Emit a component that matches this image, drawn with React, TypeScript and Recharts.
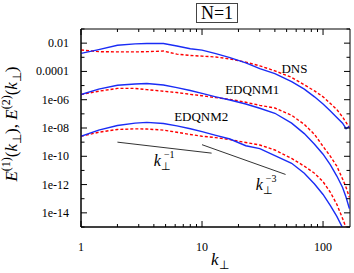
import React from "react";
import { LineChart, Line, XAxis, YAxis, ReferenceArea, ReferenceDot } from "recharts";

const FONT = "'Liberation Serif', 'Times New Roman', serif";
const PLOT_W = 269;
const PLOT_H = 198;

// wavenumbers k_perp
const kPerp = [1, 1.4, 2, 2.8, 3.5, 4.8, 6.2, 8, 10, 13, 17, 23, 30, 40, 55, 70, 85, 100, 115, 130, 145, 155, 165];

// DNS (blue solid = E1, red dashed = E2)
const dnsE1 = [1.9e-3, 3.5e-3, 7.1e-3, 8.9e-3, 9.5e-3, 9.5e-3, 6.3e-3, 4.0e-3, 3.2e-3, 1.8e-3, 9.5e-4, 4.0e-4, 1.6e-4, 7.1e-5, 1.9e-5, 5.6e-6, 1.6e-6, 5.0e-7, 1.6e-7, 5.6e-8, 2.2e-8, 9.0e-9, 1.3e-8];
const dnsE2 = [3.3e-3, 2.5e-3, 2.4e-3, 2.4e-3, 2.5e-3, 2.75e-3, 1.66e-3, 1.35e-3, 1.2e-3, 1.05e-3, 7.6e-4, 4.5e-4, 2.5e-4, 1.1e-4, 3.8e-5, 1.12e-5, 4.2e-6, 1.6e-6, 5.4e-7, 2.0e-7, 6.0e-8, 2.5e-8, 1.1e-8];

// EDQNM1
const edq1E1 = [2.3e-6, 5.6e-6, 1.05e-5, 1.3e-5, 1.4e-5, 1.1e-5, 7.1e-6, 4.5e-6, 2.8e-6, 1.6e-6, 9.5e-7, 5.0e-7, 2.5e-7, 1.1e-7, 2.2e-8, 4.0e-9, 7.1e-10, 1.4e-10, 2.5e-11, 4.0e-12, 6.3e-13, 1.26e-13, 2.0e-14];
const edq1E2 = [2.3e-6, 4.0e-6, 6.3e-6, 6.3e-6, 5.2e-6, 4.0e-6, 3.2e-6, 2.4e-6, 1.9e-6, 1.4e-6, 1.05e-6, 6.6e-7, 4.0e-7, 2.6e-7, 7.9e-8, 1.8e-8, 3.5e-9, 5.0e-10, 1.0e-10, 2.0e-11, 2.5e-12, 6.3e-13, 1.26e-13];

// EDQNM2
const edq2E1 = [2.6e-9, 7.1e-9, 1.5e-8, 2.2e-8, 2.5e-8, 2.1e-8, 1.4e-8, 8.9e-9, 5.6e-9, 3.0e-9, 1.66e-9, 5.6e-10, 3.5e-10, 1.1e-10, 3.2e-11, 6.3e-12, 1.1e-12, 2.0e-13, 3.2e-14, 5.6e-15, 8.9e-16, null, null];
const edq2E2 = [2.6e-9, 5.0e-9, 7.9e-9, 8.7e-9, 8.5e-9, 7.1e-9, 5.0e-9, 3.5e-9, 2.6e-9, 2.1e-9, 1.5e-9, 9.5e-10, 6.3e-10, 2.8e-10, 7.1e-11, 2.0e-11, 6.3e-12, 1.6e-12, 2.8e-13, 4.0e-14, 4.0e-15, 8.9e-16, null];

// guide slopes
const slopeMinus1 = [{ k: 2, v: 1.0e-9 }, { k: 12, v: 1.67e-10 }];
const slopeMinus3 = [{ k: 10, v: 6.6e-10 }, { k: 49, v: 5.2e-12 }];

const xTicks = [1, 2, 3, 4, 5, 6, 7, 8, 9, 10, 20, 30, 40, 50, 60, 70, 80, 90, 100];
const xLabels = [1, 10, 100];
const yTicks = [1e-15, 1e-14, 1e-13, 1e-12, 1e-11, 1e-10, 1e-9, 1e-8, 1e-7, 1e-6, 1e-5, 1e-4, 1e-3, 1e-2, 1e-1];
const yLabels: Record<number, string> = { [-2]: "0.01", [-4]: "0.0001", [-6]: "1e-06", [-8]: "1e-08", [-10]: "1e-10", [-12]: "1e-12", [-14]: "1e-14" };

const rows = kPerp.map((k, i) => ({
  k,
  dnsE1: dnsE1[i],
  dnsE2: dnsE2[i],
  edq1E1: edq1E1[i],
  edq1E2: edq1E2[i],
  edq2E1: edq2E1[i],
  edq2E2: edq2E2[i],
}));

const XTick = (props: any) => {
  const { x, y, payload } = props;
  const v = payload.value;
  const major = xLabels.includes(v);
  const len = major ? 6 : 3;
  return (
    <g>
      <line x1={x} x2={x} y1={y} y2={y - len} stroke="#000" />
      <line x1={x} x2={x} y1={y - PLOT_H} y2={y - PLOT_H + len} stroke="#000" />
      {major && (
        <text x={x} y={y + 24} textAnchor="middle" fontFamily={FONT} fontSize={12} fill="#000">
          {v}
        </text>
      )}
    </g>
  );
};

const YTick = (props: any) => {
  const { x, y, payload } = props;
  const e = Math.round(Math.log10(payload.value));
  const label = yLabels[e];
  const len = label ? 6 : 3.5;
  return (
    <g>
      <line x1={x} x2={x + len} y1={y} y2={y} stroke="#000" />
      <line x1={x + PLOT_W} x2={x + PLOT_W - len} y1={y} y2={y} stroke="#000" />
      {label && (
        <text x={x - 12} y={y + 4} textAnchor="end" fontFamily={FONT} fontSize={12} fill="#000">
          {label}
        </text>
      )}
    </g>
  );
};

const txt = (s: string) => (p: any) => (
  <text x={p.cx} y={p.cy} textAnchor="middle" fontFamily={FONT} fontSize={13} fill="#000">
    {s}
  </text>
);

const slopeText = (pow: string) => (p: any) => (
  <text x={p.cx} y={p.cy} fontFamily={FONT} fontSize={16} fill="#000">
    <tspan fontStyle="italic">k</tspan>
    <tspan fontSize={11} dy={4}>⊥</tspan>
    <tspan fontSize={10} dy={-12} dx={-7}>{pow}</tspan>
  </text>
);

const YTitle = () => (
  <text
    x={17}
    y={124}
    transform="rotate(-90 17 124)"
    textAnchor="middle"
    fontFamily={FONT}
    fontSize={17}
    fill="#000"
  >
    <tspan fontStyle="italic">E</tspan>
    <tspan fontSize={12} dy={-7}>(1)</tspan>
    <tspan dy={7}>(</tspan>
    <tspan fontStyle="italic">k</tspan>
    <tspan fontSize={12} dy={4}>⊥</tspan>
    <tspan dy={-4}>), </tspan>
    <tspan fontStyle="italic">E</tspan>
    <tspan fontSize={12} dy={-7}>(2)</tspan>
    <tspan dy={7}>(</tspan>
    <tspan fontStyle="italic">k</tspan>
    <tspan fontSize={12} dy={4}>⊥</tspan>
    <tspan dy={-4}>)</tspan>
  </text>
);

const XTitle = () => (
  <text x={211} y={265} fontFamily={FONT} fontSize={17} fill="#000">
    <tspan fontStyle="italic">k</tspan>
    <tspan fontSize={12} dy={4}>⊥</tspan>
  </text>
);

export default function App() {
  return (
    <div style={{ position: "absolute", left: 0, top: 0, width: 354, height: 273, background: "#fff" }}>
      <div
        style={{
          position: "absolute",
          left: 196,
          top: 3,
          width: 40,
          height: 18,
          border: "1px solid #444",
          fontFamily: FONT,
          fontSize: 18,
          lineHeight: "18px",
          textAlign: "center",
        }}
      >
        N=1
      </div>
      <LineChart width={354} height={273} data={rows} margin={{ top: 29, right: 4, left: 0, bottom: 0 }}>
        <XAxis
          dataKey="k"
          type="number"
          scale="log"
          domain={[1, 167]}
          allowDataOverflow
          ticks={xTicks}
          interval={0}
          tickSize={0}
          tickMargin={0}
          tickLine={false}
          tick={XTick}
          height={46}
          stroke="#000"
          label={{ content: XTitle }}
        />
        <YAxis
          type="number"
          scale="log"
          domain={[1e-15, 0.1]}
          allowDataOverflow
          ticks={yTicks}
          interval={0}
          tickSize={0}
          tickMargin={0}
          tickLine={false}
          tick={YTick}
          width={81}
          stroke="#000"
          label={{ content: YTitle }}
        />
        <Line dataKey="dnsE2" stroke="#ff0000" strokeWidth={1.4} strokeDasharray="3 2" dot={false} activeDot={false} isAnimationActive={false} />
        <Line dataKey="dnsE1" stroke="#1a2cf5" strokeWidth={1.4} dot={false} activeDot={false} isAnimationActive={false} />
        <Line dataKey="edq1E2" stroke="#ff0000" strokeWidth={1.4} strokeDasharray="3 2" dot={false} activeDot={false} isAnimationActive={false} />
        <Line dataKey="edq1E1" stroke="#1a2cf5" strokeWidth={1.4} dot={false} activeDot={false} isAnimationActive={false} />
        <Line dataKey="edq2E2" stroke="#ff0000" strokeWidth={1.4} strokeDasharray="3 2" dot={false} activeDot={false} isAnimationActive={false} />
        <Line dataKey="edq2E1" stroke="#1a2cf5" strokeWidth={1.4} dot={false} activeDot={false} isAnimationActive={false} />
        <Line data={slopeMinus1} dataKey="v" stroke="#333" strokeWidth={1} dot={false} activeDot={false} isAnimationActive={false} />
        <Line data={slopeMinus3} dataKey="v" stroke="#333" strokeWidth={1} dot={false} activeDot={false} isAnimationActive={false} />
        <ReferenceArea x1={1} x2={167} y1={1e-15} y2={0.1} fill="none" stroke="#000" strokeWidth={1} />
        <ReferenceDot x={58} y={8.1e-5} r={0} shape={txt("DNS")} />
        <ReferenceDot x={26} y={2.4e-6} r={0} shape={txt("EDQNM1")} />
        <ReferenceDot x={9.85} y={3e-8} r={0} shape={txt("EDQNM2")} />
        <ReferenceDot x={4.0} y={1.9e-11} r={0} shape={slopeText("−1")} />
        <ReferenceDot x={27.8} y={4.4e-13} r={0} shape={slopeText("−3")} />
      </LineChart>
    </div>
  );
}
